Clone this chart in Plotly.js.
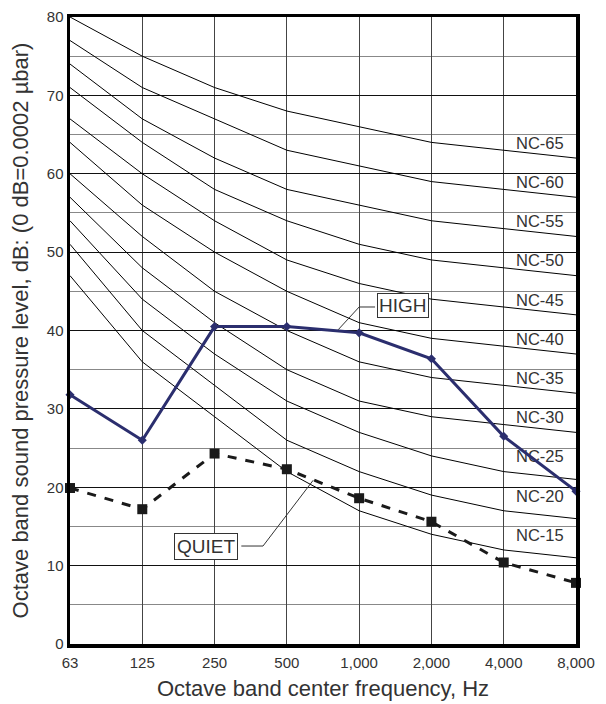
<!DOCTYPE html>
<html>
<head>
<meta charset="utf-8">
<script src="https://cdn.plot.ly/plotly-3.0.1.min.js"></script>
<style>html,body{margin:0;padding:0;background:#fff;}#chart{width:606px;height:704px;}</style>
</head>
<body>
<div id="chart"></div>
<script>
// Octave band centre frequencies (tick labels)
const freqLabels = ["63","125","250","500","1,000","2,000","4,000","8,000"];
// NC curve levels and values
const ncLevels = [15,20,25,30,35,40,45,50,55,60,65];
const ncLabels = ["NC-15","NC-20","NC-25","NC-30","NC-35","NC-40","NC-45","NC-50","NC-55","NC-60","NC-65"];
const nc15 = [47,36,29,22,17,14,12,11];
const nc20 = [51,40,33,26,22,19,17,16];
const nc25 = [54,44,37,31,27,24,22,21];
const nc30 = [57,48,41,35,31,29,28,27];
const nc35 = [60,52,45,40,36,34,33,32];
const nc40 = [64,56,50,45,41,39,38,37];
const nc45 = [67,60,54,49,46,44,43,42];
const nc50 = [71,64,58,54,51,49,48,47];
const nc55 = [74,67,62,58,56,54,53,52];
const nc60 = [77,71,67,63,61,59,58,57];
const nc65 = [80,75,71,68,66,64,63,62];
// Measured spectra
const highValues  = [31.8,26.0,40.5,40.5,39.7,36.4,26.5,19.5];
const quietValues = [19.9,17.2,24.3,22.3,18.6,15.6,10.4,7.8];

const ncCurves = [nc15,nc20,nc25,nc30,nc35,nc40,nc45,nc50,nc55,nc60,nc65];
const xi = freqLabels.map((_,i)=>i);
const FONT = "Liberation Sans, Arial, sans-serif";

const traces = [];
ncCurves.forEach((c,k)=>{
  traces.push({x:xi, y:c, mode:'lines', line:{color:'#000', width:1}, hoverinfo:'skip', showlegend:false});
});
traces.push({
  x: ncLevels.map(()=>6.83), y: ncLevels.map(v=>v-1.3), text: ncLabels,
  mode:'text', textposition:'middle left', textfont:{family:FONT,size:16.5,color:'#333'},
  cliponaxis:false, showlegend:false, hoverinfo:'skip'
});
traces.push({
  x:xi, y:quietValues, mode:'lines+markers', cliponaxis:false,
  line:{color:'#1a1a1a', width:3, dash:'dash'},
  marker:{symbol:'square', size:10, color:'#1a1a1a'}, showlegend:false
});
traces.push({
  x:xi, y:highValues, mode:'lines+markers', cliponaxis:false,
  line:{color:'#2b2e6e', width:3},
  marker:{symbol:'diamond', size:7, color:'#2b2e6e'}, showlegend:false
});

const layout = {
  width:606, height:704,
  margin:{l:70, r:30, t:17, b:60},
  paper_bgcolor:'#fff', plot_bgcolor:'#fff',
  font:{family:FONT, color:'#333', size:15},
  xaxis:{
    range:[0,7], tickmode:'array', tickvals:xi, ticktext:freqLabels,
    showgrid:true, gridcolor:'#444', gridwidth:1, zeroline:false,
    showline:true, mirror:true, linecolor:'#000', linewidth:3.5, ticks:'',
    ticklabelstandoff:2,
    tickfont:{family:FONT, size:15, color:'#333'},
    title:{text:'Octave band center frequency, Hz', font:{family:FONT,size:22,color:'#333'}, standoff:12}
  },
  yaxis:{
    range:[0,80], dtick:10, tick0:0,
    showgrid:true, gridcolor:'#111', gridwidth:1, zeroline:false,
    minor:{dtick:5, showgrid:true, gridcolor:'#888', gridwidth:1},
    showline:true, mirror:true, linecolor:'#000', linewidth:3.5, ticks:'',
    tickfont:{family:FONT, size:15, color:'#333'},
    title:{text:'Octave band sound pressure level, dB: (0 dB=0.0002 µbar)', font:{family:FONT,size:22,color:'#333'}, standoff:13}
  },
  annotations:[
    {x:4.6, y:43.2, xref:'x', yref:'y', text:'HIGH', showarrow:false,
     font:{family:FONT,size:19,color:'#333'}, bgcolor:'#fff', bordercolor:'#333', borderwidth:1, borderpad:1},
    {x:1.88, y:12.4, xref:'x', yref:'y', text:'QUIET', showarrow:false,
     font:{family:FONT,size:19,color:'#333'}, bgcolor:'#fff', bordercolor:'#333', borderwidth:1, borderpad:2}
  ],
  shapes:[
    {type:'path', xref:'x', yref:'y', path:'M 4.22 43.0 L 4.0 43.0 L 3.71 40.1', line:{color:'#333', width:1}},
    {type:'path', xref:'x', yref:'y', path:'M 2.37 12.5 L 2.67 12.5 L 3.365 20.9', line:{color:'#333', width:1}}
  ]
};

Plotly.newPlot('chart', traces, layout, {displayModeBar:false, staticPlot:true});
</script>
</body>
</html>
